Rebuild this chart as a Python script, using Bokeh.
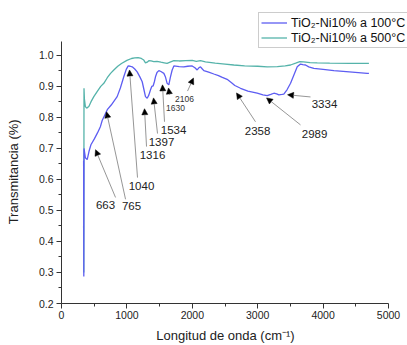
from bokeh.plotting import figure
from bokeh.models import (Range1d, FixedTicker, Legend, LegendItem, Arrow, NormalHead,
                          ColumnDataSource, PrintfTickFormatter)
from bokeh.core.properties import value
from bokeh.embed import file_html
from bokeh.resources import INLINE

# ---- data ----
blue_x = [338, 341, 344, 365, 393, 420, 450, 500, 550, 596, 622, 700, 760, 851, 900, 952, 990,
          1020, 1050, 1081, 1120, 1157, 1200, 1234, 1260, 1284, 1310, 1335, 1361, 1380, 1402,
          1420, 1437, 1460, 1488, 1520, 1565, 1590, 1615, 1641, 1665, 1692, 1718, 1800, 1870,
          1930, 1998, 2040, 2074, 2100, 2125, 2150, 2176, 2250, 2329, 2400, 2450, 2532, 2600,
          2650, 2737, 2850, 2992, 3080, 3145, 3200, 3247, 3290, 3323, 3370, 3399, 3450, 3502,
          3550, 3604, 3654, 3690, 3731, 3780, 3858, 4000, 4164, 4400, 4674, 4700]
blue_y = [0.66, 0.287, 0.70, 0.67, 0.664, 0.69, 0.712, 0.73, 0.75, 0.771, 0.79, 0.825, 0.84,
          0.867, 0.895, 0.931, 0.955, 0.966, 0.965, 0.963, 0.956, 0.947, 0.93, 0.915, 0.89,
          0.867, 0.862, 0.872, 0.889, 0.90, 0.902, 0.915, 0.931, 0.945, 0.951, 0.948, 0.942,
          0.93, 0.91, 0.905, 0.93, 0.953, 0.966, 0.964, 0.963, 0.965, 0.966, 0.96, 0.953, 0.96,
          0.963, 0.957, 0.951, 0.946, 0.94, 0.935, 0.93, 0.923, 0.912, 0.903, 0.894, 0.885,
          0.878, 0.873, 0.87, 0.874, 0.878, 0.876, 0.873, 0.874, 0.875, 0.89, 0.91, 0.935,
          0.963, 0.972, 0.97, 0.969, 0.963, 0.958, 0.955, 0.951, 0.947, 0.942, 0.942]

teal_x = [338, 341, 344, 350, 365, 385, 418, 450, 494, 550, 600, 647, 700, 750, 800, 860, 917,
          1000, 1070, 1120, 1170, 1220, 1258, 1284, 1310, 1335, 1370, 1411, 1460, 1520, 1570,
          1615, 1660, 1718, 1800, 1900, 2000, 2060, 2125, 2200, 2350, 2500, 2635, 2800, 3000,
          3145, 3300, 3420, 3502, 3580, 3644, 3700, 3800, 3910, 4100, 4400, 4674, 4700]
teal_y = [0.45, 0.30, 0.894, 0.86, 0.835, 0.83, 0.835, 0.85, 0.867, 0.885, 0.90, 0.91, 0.928,
          0.942, 0.953, 0.965, 0.974, 0.984, 0.99, 0.992, 0.993, 0.99, 0.985, 0.976, 0.978,
          0.983, 0.982, 0.98, 0.981, 0.978, 0.976, 0.974, 0.978, 0.983, 0.982, 0.983, 0.984,
          0.981, 0.983, 0.979, 0.975, 0.972, 0.969, 0.966, 0.965, 0.963, 0.964, 0.966, 0.969,
          0.975, 0.98, 0.979, 0.977, 0.976, 0.975, 0.974, 0.974, 0.974]

series_names = ["TiO\u2082-Ni10% a 100°C", "TiO\u2082-Ni10% a 500°C"]

x_ticks = [0, 1000, 2000, 3000, 4000, 5000]
y_ticks = [0.2, 0.3, 0.4, 0.5, 0.6, 0.7, 0.8, 0.9, 1.0]

# annotations: label, arrow tip (x, y), arrow tail (x, y), text centre (x, y), small font?
ann_label = ["663", "765", "1040", "1316", "1397", "1534", "1630", "2106", "2358", "2989", "3334"]
ann_tip_x = [520, 688, 1040, 1269, 1407, 1544, 1636, 2018, 2676, 3135, 3456]
ann_tip_y = [0.696, 0.818, 0.953, 0.828, 0.863, 0.905, 0.895, 0.927, 0.879, 0.863, 0.873]
ann_tail_x = [826, 979, 1162, 1300, 1468, 1575, 1651, 1927, 2966, 3654, 3807]
ann_tail_y = [0.542, 0.536, 0.606, 0.706, 0.748, 0.786, 0.873, 0.885, 0.786, 0.776, 0.866]
ann_text_x = [673, 1070, 1223, 1391, 1529, 1713, 1743, 1881, 2997, 3869, 4021]
ann_text_y = [0.517, 0.514, 0.578, 0.680, 0.722, 0.760, 0.831, 0.860, 0.757, 0.748, 0.844]
ann_small = [False, False, False, False, False, False, True, True, False, False, False]

FONT = "Liberation Sans"
BLUE = "#5d5df2"
TEAL = "#55b3aa"

# axis extents (the frame is larger so that the legend, which is clipped to it, fits)
X_AXIS = (0, 5000)
Y_AXIS = (0.2, 1.046)
X_VIEW = (0, 5290)
Y_VIEW = (0.2, 1.177)

p = figure(width=407, height=345, output_backend="svg", toolbar_location=None,
           x_range=Range1d(*X_VIEW), y_range=Range1d(*Y_VIEW),
           min_border_left=61, min_border_right=0, min_border_top=0, min_border_bottom=40)
p.outline_line_color = None
p.xgrid.visible = False
p.ygrid.visible = False
p.background_fill_color = "white"
p.border_fill_color = "white"

r_teal = p.line(teal_x, teal_y, line_color=TEAL, line_width=1.3)
r_blue = p.line(blue_x, blue_y, line_color=BLUE, line_width=1.3)

for ax, ticks, bnds in ((p.xaxis[0], x_ticks, X_AXIS), (p.yaxis[0], y_ticks, Y_AXIS)):
    ax.ticker = FixedTicker(ticks=ticks,
                            minor_ticks=[t + (ticks[1] - ticks[0]) / 2 for t in ticks[:-1]])
    ax.bounds = bnds
    ax.major_tick_in = 0
    ax.major_tick_out = 5
    ax.minor_tick_in = 0
    ax.minor_tick_out = 3
    ax.axis_line_color = "#333333"
    ax.major_tick_line_color = "#333333"
    ax.minor_tick_line_color = "#333333"
    ax.major_label_text_font = FONT
    ax.major_label_text_font_size = "10.5px"
    ax.major_label_text_color = "#222222"
    ax.axis_label_text_font = FONT
    ax.axis_label_text_font_style = "normal"
    ax.axis_label_text_font_size = "13px"
    ax.axis_label_text_color = "#222222"

NBSP = "\u00a0"
p.yaxis.formatter = PrintfTickFormatter(format="%.1f")
# non-breaking spaces re-centre the titles on the axis (not on the wider frame)
p.xaxis.axis_label = "Longitud de onda (cm\u207b\u00b9)" + NBSP * 5
p.yaxis.axis_label = "Transmitancia (%)" + NBSP * 11
p.xaxis.major_label_standoff = 2
p.xaxis.axis_label_standoff = 6
p.yaxis.major_label_standoff = 3
p.yaxis.axis_label_standoff = 15

for i in range(len(ann_label)):
    p.add_layout(Arrow(x_start=ann_tail_x[i], y_start=ann_tail_y[i],
                       x_end=ann_tip_x[i], y_end=ann_tip_y[i],
                       line_color="#8a8a8a", line_width=0.9,
                       end=NormalHead(size=6, fill_color="black", line_color="black",
                                      line_width=0.5)))

src_big = ColumnDataSource(dict(
    x=[ann_text_x[i] for i in range(len(ann_label)) if not ann_small[i]],
    y=[ann_text_y[i] for i in range(len(ann_label)) if not ann_small[i]],
    t=[ann_label[i] for i in range(len(ann_label)) if not ann_small[i]]))
src_small = ColumnDataSource(dict(
    x=[ann_text_x[i] for i in range(len(ann_label)) if ann_small[i]],
    y=[ann_text_y[i] for i in range(len(ann_label)) if ann_small[i]],
    t=[ann_label[i] for i in range(len(ann_label)) if ann_small[i]]))
p.text(x="x", y="y", text="t", source=src_big, text_font=value(FONT),
       text_font_size="11.5px", text_align="center", text_baseline="middle",
       text_color="#222222")
p.text(x="x", y="y", text="t", source=src_small, text_font=value(FONT),
       text_font_size="8.5px", text_align="center", text_baseline="middle",
       text_color="#333333")

legend = Legend(items=[LegendItem(label=series_names[0], renderers=[r_blue]),
                       LegendItem(label=series_names[1], renderers=[r_teal])],
                location=(197, 255))
legend.label_text_font = FONT
legend.label_text_font_size = "12.5px"
legend.label_text_color = "#111111"
legend.glyph_width = 26
legend.glyph_height = 15
legend.label_height = 15
legend.label_standoff = 4
legend.padding = 2
legend.spacing = 0
legend.margin = 0
legend.border_line_color = "#9a9a9a"
legend.border_line_width = 1
legend.background_fill_alpha = 1
p.add_layout(legend, "center")

open("out.html", "w").write(file_html(p, INLINE))
